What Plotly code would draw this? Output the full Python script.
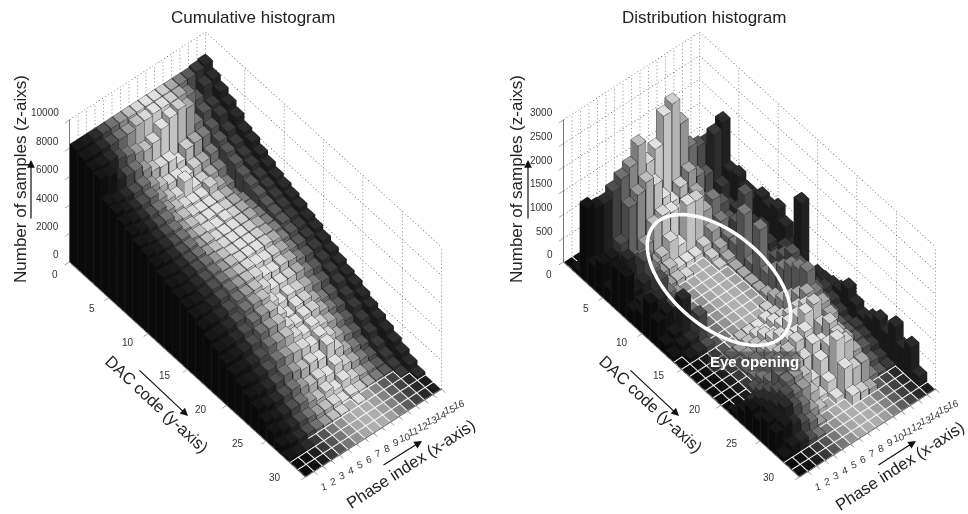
import math
import plotly.graph_objects as go

W, H = 968, 514
PHASES = list(range(1, 17))
DAC_TICKS = [0, 5, 10, 15, 20, 25, 30]
Z_TICKS_L = [0, 2000, 4000, 6000, 8000, 10000]
Z_TICKS_R = [0, 500, 1000, 1500, 2000, 2500, 3000]
SHADE = [0.06, 0.08, 0.14, 0.28, 0.42, 0.58, 0.72, 0.82, 0.86, 0.85, 0.78, 0.64, 0.46, 0.32, 0.2, 0.14]

CUM = [
 [8300,8100,7900,7800,6500,6400,6100,5900,5600,5400,5200,4900,4700,4500,4300,4100,3800,3500,3200,2900,2600,2300,2000,1700,1300,1000,600,200,0,0],
 [8300,8100,7800,7600,6300,6100,5900,5700,5400,5200,5000,4800,4600,4400,4200,4000,3800,3500,3200,2900,2600,2200,1900,1500,1100,800,400,100,0,0],
 [8300,8100,7800,7000,6200,5900,5700,5500,5300,5200,5000,4800,4700,4500,4300,4100,3800,3500,3200,2900,2500,2200,1800,1400,1000,600,300,100,0,0],
 [8300,8000,7500,6800,6100,5800,5500,5300,5200,5000,4900,4800,4700,4500,4400,4200,3900,3600,3300,3000,2600,2200,1800,1400,1000,600,300,0,0,0],
 [8300,8000,7300,6800,6200,5900,5500,5300,5100,5000,4900,4800,4700,4600,4500,4400,4200,4000,3700,3400,3000,2500,2000,1500,1000,500,200,0,0,0],
 [8300,8000,7100,6400,5800,5400,5100,4800,4700,4600,4500,4500,4500,4400,4400,4300,4200,4100,3800,3400,2900,2400,1800,1200,700,300,100,0,0,0],
 [8300,8200,6900,6000,5400,5000,4800,4700,4600,4500,4500,4400,4400,4400,4300,4300,4200,4000,3700,3300,2900,2300,1600,1000,500,300,100,0,0,0],
 [8300,8200,7100,5900,5200,4800,4600,4500,4400,4400,4300,4300,4300,4300,4300,4200,3900,3400,3000,2700,2500,2200,1700,1100,700,300,100,0,0,0],
 [8300,8300,7700,5900,5200,5500,4500,4400,4400,4300,4300,4300,4300,4300,4200,3900,3500,3000,2550,2500,2300,2000,1500,900,400,100,0,0,0,0],
 [8300,8300,8100,5400,5000,4700,4500,4400,4400,4400,4300,4300,4300,4300,4100,3800,3500,3200,2900,2700,2500,2300,2200,1300,700,200,100,0,0,0],
 [8300,8300,8300,6000,5200,4700,4860,4400,4300,4300,4300,4300,4300,4300,4100,3900,3500,3100,2900,2700,2200,1900,1500,900,400,100,0,0,0,0],
 [8300,8300,8000,6100,5200,4800,4500,4300,4300,4300,4300,4200,4200,4200,4000,3800,3500,3000,2500,2300,2000,1500,1000,700,300,100,0,0,0,0],
 [8300,8000,6500,6100,5400,4800,4200,3800,4000,4000,4000,4000,4000,3900,3700,3500,3100,2700,2200,2000,1600,1200,800,500,200,100,0,0,0,0],
 [8300,7300,6900,6300,5900,5600,5300,5000,4800,4600,4400,4300,4200,4000,3700,3400,3000,2600,2200,1800,1400,1000,600,300,100,100,0,0,0,0],
 [8400,7900,7000,6800,6200,5800,5500,5300,5000,4800,4600,4400,4200,4000,3800,3500,3200,2900,2600,2200,1900,1500,1100,700,400,200,100,0,0,0],
 [8500,8000,7600,7200,6800,6300,6100,5700,5400,5100,4900,4700,4500,4200,4000,3700,3400,3100,2800,2600,2300,2000,1700,1400,1100,800,500,200,0,0],
]
DIST = [
 [0,100,1570,500,680,300,870,870,300,400,770,530,200,100,0,0,0,0,0,0,0,100,300,490,400,530,450,100,0,0],
 [0,100,1450,400,700,300,400,450,350,400,500,600,300,200,100,0,0,0,0,0,0,50,250,400,500,500,500,200,0,0],
 [0,150,1430,350,500,700,300,500,300,450,300,400,920,200,100,0,0,0,0,0,0,100,300,400,500,600,400,200,0,0],
 [0,200,1570,600,400,500,700,300,600,300,200,300,100,600,100,0,0,0,0,0,100,200,350,500,600,500,300,100,0,0],
 [0,250,1720,1270,300,500,400,300,200,100,50,0,0,0,0,0,50,0,50,100,200,300,600,600,500,400,200,50,0,0],
 [0,300,1850,1420,500,250,200,100,50,0,0,0,0,0,0,0,50,100,150,200,450,600,700,600,500,200,50,0,0,0],
 [0,350,2190,1570,800,300,200,100,0,0,0,0,0,0,0,50,100,200,300,400,500,700,600,500,300,100,0,0,0,0],
 [0,400,1700,1400,900,500,100,50,0,0,0,0,0,0,0,50,150,300,400,600,700,800,600,300,100,0,0,0,0,0],
 [0,500,1890,1000,850,300,100,0,0,0,0,0,0,0,0,50,100,200,300,500,700,900,800,600,300,100,0,0,0,0],
 [0,600,2470,800,700,1040,100,0,0,0,0,0,0,0,0,100,200,300,500,800,1020,530,700,800,1060,620,200,0,0,0],
 [50,800,2610,1000,800,1020,200,100,50,0,0,0,0,0,50,100,200,400,700,900,1100,800,1000,900,900,500,150,0,0,0],
 [100,900,2080,1200,900,680,400,200,100,50,50,50,50,100,200,300,500,700,900,800,1000,900,700,700,600,510,100,0,0,0],
 [100,800,1470,1000,600,810,500,300,300,1100,200,1080,300,500,700,900,1000,1100,800,600,500,400,400,300,200,100,0,0,0,0],
 [100,700,1360,900,500,600,400,500,1250,400,300,300,500,700,900,800,700,600,500,400,300,300,300,280,150,50,0,0,0,0],
 [100,600,1300,1650,700,400,500,400,500,600,400,300,600,500,400,500,400,500,400,300,200,300,250,200,100,50,0,0,0,0],
 [100,500,1000,1790,900,960,800,800,960,900,1020,800,530,1600,250,380,400,450,500,700,500,380,500,640,500,810,500,680,200,0],
]

FONT = "Liberation Sans, Arial, sans-serif"
HALF = 0.46


def gray(v):
    g = int(max(0, min(1, v)) * 255)
    return f"rgb({g},{g},{g})"


def bars(matrix, scene):
    vx, vy, vz, I, J, K, fc = [], [], [], [], [], [], []
    dark = ([], [], [])
    light = ([], [], [])
    for ci, col in enumerate(matrix):
        for rj, h in enumerate(col):
            xc, yc = ci + 0.5, rj + 0.5
            x0, x1, y0, y1 = xc - HALF, xc + HALF, yc - HALF, yc + HALF
            s = SHADE[ci]
            top = min(1, s + 0.03) if h > 0 else s * 0.8
            faces = [((x0, y0, h), (x1, y0, h), (x1, y1, h), (x0, y1, h), top)]
            if h > 0:
                faces.append(((x0, y0, 0), (x0, y1, 0), (x0, y1, h), (x0, y0, h), s * 0.68))
                faces.append(((x0, y1, 0), (x1, y1, 0), (x1, y1, h), (x0, y1, h), s * 0.9))
            for a, b, c, d, sh in faces:
                n = len(vx)
                for p in (a, b, c, d):
                    vx.append(p[0]); vy.append(p[1]); vz.append(p[2])
                I += [n, n]; J += [n + 1, n + 2]; K += [n + 2, n + 3]
                fc += [gray(sh), gray(sh)]
            t = dark if h > 0 else light
            t[0].extend([x0, x1, x1, x0, x0, None])
            t[1].extend([y0, y0, y1, y1, y0, None])
            t[2].extend([h, h, h, h, h, None])
            if h > 0:
                for px, py in ((x0, y0), (x0, y1), (x1, y1)):
                    t[0].extend([px, px, None]); t[1].extend([py, py, None]); t[2].extend([0, h, None])
    out = [go.Mesh3d(x=vx, y=vy, z=vz, i=I, j=J, k=K, facecolor=fc, flatshading=True,
                     lighting=dict(ambient=1, diffuse=0, specular=0, fresnel=0, roughness=1),
                     hoverinfo="skip", scene=scene, showscale=False)]
    out.append(go.Scatter3d(x=dark[0], y=dark[1], z=dark[2], mode="lines", connectgaps=False,
                            line=dict(color="#1a1a1a", width=1), hoverinfo="skip", scene=scene, showlegend=False))
    out.append(go.Scatter3d(x=light[0], y=light[1], z=light[2], mode="lines", connectgaps=False,
                            line=dict(color="#f4f4f4", width=1), hoverinfo="skip", scene=scene, showlegend=False))
    return out


def dots(p0, p1, count, acc):
    """Short dashes along one grid line, so it reads as a dotted line."""
    for k in range(count):
        a, b = k / count, (k + 0.35) / count
        for c in range(3):
            acc[c].extend([p0[c] + (p1[c] - p0[c]) * a, p0[c] + (p1[c] - p0[c]) * b, None])


def grid(zticks, scene):
    acc = ([], [], [])
    top = zticks[-1]
    for x in PHASES:
        dots((x, 0, 0), (x, 0, top), 40, acc)
    for y in DAC_TICKS[1:]:
        dots((16, y, 0), (16, y, top), 40, acc)
    for z in zticks[1:]:
        dots((0, 0, z), (16, 0, z), 46, acc)
        dots((16, 0, z), (16, 30, z), 90, acc)
    return go.Scatter3d(x=acc[0], y=acc[1], z=acc[2], mode="lines", connectgaps=False,
                        line=dict(color="#444444", width=1),
                        hoverinfo="skip", scene=scene, showlegend=False)


def axis(rng, vals):
    return dict(range=rng, tickmode="array", tickvals=vals, showticklabels=False,
                showgrid=False, showbackground=False, zeroline=False, showspikes=False,
                showline=True, linecolor="#666666", linewidth=2, ticks="outside", ticklen=6,
                tickcolor="#666666", title=dict(text=""))


PHI = math.radians(40.1)
THETA = math.radians(50.1)
R = 1.38
SCALE = 257.0
SHIFT_RIGHT, SHIFT_UP = 0.5, 2.5
RV = (math.cos(PHI), -math.sin(PHI), 0.0)
UV = (math.sin(THETA) * math.sin(PHI), math.sin(THETA) * math.cos(PHI), math.cos(THETA))
CENTER = [-(SHIFT_RIGHT * RV[c] + SHIFT_UP * UV[c]) / SCALE for c in range(3)]
EYE0 = (-math.sin(PHI) * math.cos(THETA) * R, -math.cos(PHI) * math.cos(THETA) * R, math.sin(THETA) * R)


def tick_labels(zt):
    f = dict(family=FONT, size=10, color="#333333")
    out = []
    for z in zt:
        out.append(dict(x=0, y=0, z=z, text=str(z), showarrow=False, xanchor="right", yanchor="middle",
                        xshift=-8, yshift=7, font=f))
    for y in DAC_TICKS:
        out.append(dict(x=0, y=y, z=0, text=str(y), showarrow=False, xanchor="center", yanchor="middle",
                        xshift=-14 - 17 * y / 30, yshift=-13 + 13 * y / 30, font=f))
    for x in PHASES:
        out.append(dict(x=x, y=30, z=0, text=str(x), showarrow=False, xanchor="center", yanchor="middle",
                        xshift=10 + 7 * (x - 1) / 15, yshift=-15, textangle=-15, font=f))
    return out


def scene(dom, zt):
    return dict(domain=dict(x=[dom[0] / W, dom[1] / W], y=[0, 1]),
                camera=dict(eye=dict(x=EYE0[0] + CENTER[0], y=EYE0[1] + CENTER[1], z=EYE0[2] + CENTER[2]),
                            center=dict(x=CENTER[0], y=CENTER[1], z=CENTER[2]), up=dict(x=0, y=0, z=1),
                            projection=dict(type="orthographic")),
                aspectmode="manual", aspectratio=dict(x=0.692, y=1.426, z=0.862),
                annotations=tick_labels(zt),
                xaxis=axis([0, 16], PHASES), yaxis=axis([30, 0], DAC_TICKS), zaxis=axis([0, zt[-1]], zt))


fig = go.Figure()
for t in bars(CUM, "scene") + [grid(Z_TICKS_L, "scene")]:
    fig.add_trace(t)
for t in bars(DIST, "scene2") + [grid(Z_TICKS_R, "scene2")]:
    fig.add_trace(t)


def txt(s, x, y, size=16, angle=0, color="#222222", bold=False, bg=None):
    return dict(text=f"<b>{s}</b>" if bold else s, x=x / W, y=1 - y / H, xref="paper", yref="paper",
                xanchor="center", yanchor="middle", showarrow=False, textangle=angle,
                bgcolor=bg, font=dict(family=FONT, size=size, color=color))


def arrow(x0, y0, x1, y1):
    return dict(x=x1 / W, y=1 - y1 / H, xref="paper", yref="paper", ax=x0 - x1, ay=y0 - y1,
                axref="pixel", ayref="pixel", text="", showarrow=True, arrowhead=2, arrowsize=1.3,
                arrowwidth=1.2, arrowcolor="#111111")


ann = [
    txt("Cumulative histogram", 253, 18, 17),
    txt("Distribution histogram", 704, 18, 17),
    txt("Number of samples (z-aixs)", 20, 179, 17, -90),
    txt("Number of samples (z-aixs)", 516, 179, 17, -90),
    txt("DAC code (y-axis)", 157, 404, 16.5, 43),
    txt("DAC code (y-axis)", 651, 404, 16.5, 43),
    txt("Phase index (x-axis)", 410, 464, 16.5, -33),
    txt("Phase index (x-axis)", 899, 466, 16.5, -33),
    txt("Eye opening", 754, 361, 15, 0, "#ffffff", True, "rgba(60,60,60,0.5)"),
    arrow(31, 220, 31, 160), arrow(528, 220, 528, 160),
    arrow(138, 369, 188, 416), arrow(629, 369, 679, 416),
    arrow(382, 466, 422, 441), arrow(877, 466, 916, 441),
]

# white ring marking the eye opening, in paper coordinates
CX, CY, A, B, T = 719, 280, 85, 47, math.radians(40)
pts = []
for k in range(73):
    u = 2 * math.pi * k / 72
    px = CX + A * math.cos(u) * math.cos(T) - B * math.sin(u) * math.sin(T)
    py = CY + A * math.cos(u) * math.sin(T) + B * math.sin(u) * math.cos(T)
    pts.append(f"{px / W:.5f},{1 - py / H:.5f}")
ring = "M" + " L".join(pts) + " Z"

fig.update_layout(width=W, height=H, margin=dict(l=0, r=0, t=0, b=0), paper_bgcolor="white",
                  showlegend=False, annotations=ann,
                  shapes=[dict(type="path", path=ring, xref="paper", yref="paper", layer="above",
                               line=dict(color="white", width=3.5))],
                  scene=scene((0, 510), Z_TICKS_L), scene2=scene((530, 968), Z_TICKS_R))
fig.write_html("out.html", config=dict(displayModeBar=False),
               post_script="document.body.style.margin='0';document.documentElement.style.overflow='hidden';")
